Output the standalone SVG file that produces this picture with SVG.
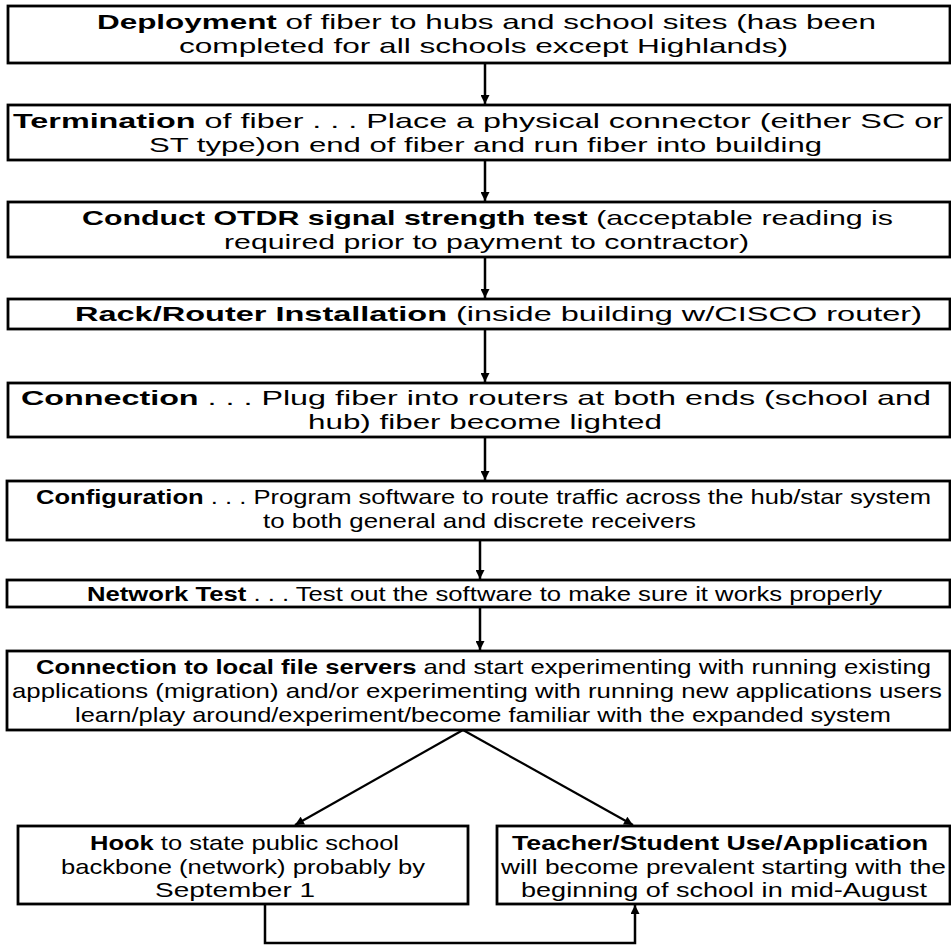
<svg xmlns="http://www.w3.org/2000/svg" width="951" height="949" viewBox="0 0 951 949">
<style>
.box{fill:#fff;stroke:#000;stroke-width:2.8}
.t{font-family:"Liberation Sans",Arial,sans-serif;font-size:21px;fill:#000}
.b{font-weight:bold}
.c{stroke:#000;stroke-width:2.5;fill:none}
.d{stroke:#000;stroke-width:2.2;fill:none}
</style>
<defs>
<marker id="ah" viewBox="0 0 10 10" refX="10" refY="5" markerWidth="10" markerHeight="9" orient="auto" markerUnits="userSpaceOnUse">
<path d="M0,0 L10,5 L0,10 z" fill="#000"/>
</marker>
</defs>
<rect width="951" height="949" fill="#fff"/>
<g id="connectors">
<line class="c" x1="485" y1="63" x2="485" y2="104" marker-end="url(#ah)"/>
<line class="c" x1="485" y1="160" x2="485" y2="201" marker-end="url(#ah)"/>
<line class="c" x1="485" y1="257" x2="485" y2="298" marker-end="url(#ah)"/>
<line class="c" x1="485" y1="329" x2="485" y2="382" marker-end="url(#ah)"/>
<line class="c" x1="485" y1="437" x2="485" y2="480" marker-end="url(#ah)"/>
<line class="c" x1="480" y1="540" x2="480" y2="579" marker-end="url(#ah)"/>
<line class="c" x1="480" y1="607" x2="480" y2="650" marker-end="url(#ah)"/>
<line class="d" x1="463" y1="730" x2="295" y2="825" marker-end="url(#ah)"/>
<line class="d" x1="463" y1="730" x2="633" y2="825" marker-end="url(#ah)"/>
<polyline class="c" points="265,904 265,943 635,943 635,905" marker-end="url(#ah)"/>
</g>
<g id="n1">
<rect class="box" x="8" y="6" width="942" height="57"/>
<text class="t" x="97" y="29" textLength="779" lengthAdjust="spacingAndGlyphs"><tspan class="b">Deployment</tspan> of fiber to hubs and school sites (has been</text>
<text class="t" x="179" y="53" textLength="609" lengthAdjust="spacingAndGlyphs">completed for all schools except Highlands)</text>
</g>
<g id="n2">
<rect class="box" x="8" y="105" width="942" height="55"/>
<text class="t" x="13" y="128" textLength="930" lengthAdjust="spacingAndGlyphs"><tspan class="b">Termination</tspan> of fiber . . . Place a physical connector (either SC or</text>
<text class="t" x="149" y="152" textLength="673" lengthAdjust="spacingAndGlyphs">ST type)on end of fiber and run fiber into building</text>
</g>
<g id="n3">
<rect class="box" x="8" y="202" width="942" height="55"/>
<text class="t" x="82" y="225" textLength="811" lengthAdjust="spacingAndGlyphs"><tspan class="b">Conduct OTDR signal strength test</tspan> (acceptable reading is</text>
<text class="t" x="224" y="249" textLength="525" lengthAdjust="spacingAndGlyphs">required prior to payment to contractor)</text>
</g>
<g id="n4">
<rect class="box" x="8" y="299" width="942" height="30"/>
<text class="t" x="75" y="321" textLength="847" lengthAdjust="spacingAndGlyphs"><tspan class="b">Rack/Router Installation</tspan> (inside building w/CISCO router)</text>
</g>
<g id="n5">
<rect class="box" x="8" y="383" width="942" height="54"/>
<text class="t" x="21" y="405" textLength="910" lengthAdjust="spacingAndGlyphs"><tspan class="b">Connection</tspan> . . . Plug fiber into routers at both ends (school and</text>
<text class="t" x="308" y="429" textLength="354" lengthAdjust="spacingAndGlyphs">hub) fiber become lighted</text>
</g>
<g id="n6">
<rect class="box" x="7" y="481" width="943" height="59"/>
<text class="t" x="36" y="504" textLength="895" lengthAdjust="spacingAndGlyphs"><tspan class="b">Configuration</tspan> . . . Program software to route traffic across the hub/star system</text>
<text class="t" x="263" y="528" textLength="433" lengthAdjust="spacingAndGlyphs">to both general and discrete receivers</text>
</g>
<g id="n7">
<rect class="box" x="7" y="580" width="943" height="27"/>
<text class="t" x="87" y="601" textLength="795" lengthAdjust="spacingAndGlyphs"><tspan class="b">Network Test</tspan> . . . Test out the software to make sure it works properly</text>
</g>
<g id="n8">
<rect class="box" x="7" y="651" width="943" height="79"/>
<text class="t" x="36" y="674" textLength="895" lengthAdjust="spacingAndGlyphs"><tspan class="b">Connection to local file servers</tspan> and start experimenting with running existing</text>
<text class="t" x="12" y="698" textLength="930" lengthAdjust="spacingAndGlyphs">applications (migration) and/or experimenting with running new applications users</text>
<text class="t" x="75" y="722" textLength="816" lengthAdjust="spacingAndGlyphs">learn/play around/experiment/become familiar with the expanded system</text>
</g>
<g id="n9">
<rect class="box" x="18" y="826" width="450" height="78"/>
<text class="t" x="90" y="850" textLength="309" lengthAdjust="spacingAndGlyphs"><tspan class="b">Hook</tspan> to state public school</text>
<text class="t" x="61" y="874" textLength="364" lengthAdjust="spacingAndGlyphs">backbone (network) probably by</text>
<text class="t" x="155" y="897" textLength="160" lengthAdjust="spacingAndGlyphs">September 1</text>
</g>
<g id="n10">
<rect class="box" x="497" y="826" width="453" height="78"/>
<text class="t b" x="512" y="850" textLength="416" lengthAdjust="spacingAndGlyphs">Teacher/Student Use/Application</text>
<text class="t" x="501" y="874" textLength="445" lengthAdjust="spacingAndGlyphs">will become prevalent starting with the</text>
<text class="t" x="521" y="897" textLength="406" lengthAdjust="spacingAndGlyphs">beginning of school in mid-August</text>
</g>
</svg>
